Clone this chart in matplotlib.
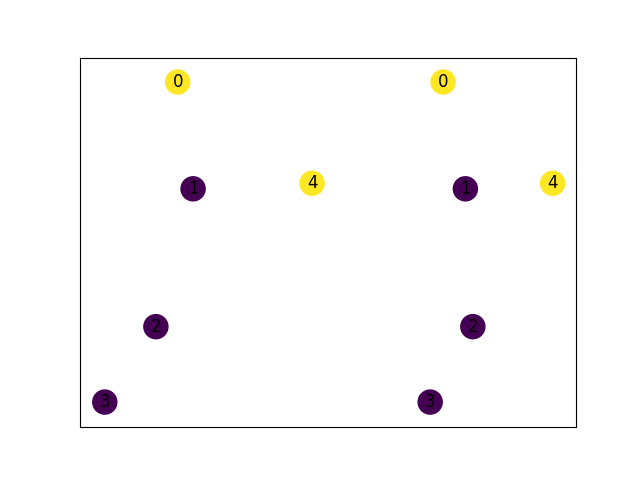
import matplotlib
matplotlib.use("Agg")
import matplotlib.pyplot as plt

# Node labels, positions (axes-fraction style data coords) and colour values
labels = ["0", "1", "2", "3", "4", "0", "1", "2", "3", "4"]
x_pos = [0.197, 0.228, 0.153, 0.050, 0.468, 0.732, 0.777, 0.792, 0.706, 0.953]
y_pos = [0.934, 0.645, 0.272, 0.068, 0.660, 0.934, 0.645, 0.272, 0.068, 0.660]
values = [1, 0, 0, 0, 1, 1, 0, 0, 0, 1]

fig, ax = plt.subplots(figsize=(6.4, 4.8), dpi=100)
ax.scatter(x_pos, y_pos, s=300, c=values, cmap="viridis", vmin=0, vmax=1, zorder=2)
for lx, ly, lab in zip(x_pos, y_pos, labels):
    ax.text(lx, ly, lab, fontsize=12, ha="center", va="center", color="k", zorder=3)
ax.set_xlim(0, 1)
ax.set_ylim(0, 1)
ax.tick_params(axis="both", which="both", bottom=False, left=False,
               labelbottom=False, labelleft=False)
fig.savefig("out.png", dpi=100)
